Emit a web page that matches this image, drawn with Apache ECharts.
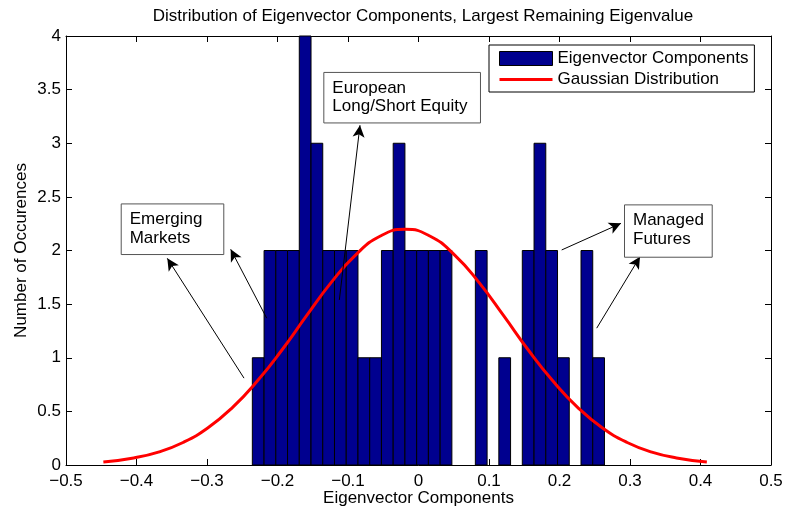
<!DOCTYPE html>
<html>
<head>
<meta charset="utf-8">
<script src="https://cdn.jsdelivr.net/npm/echarts@6/dist/echarts.min.js"></script>
<style>html,body{margin:0;padding:0;background:#fff}#c{width:785px;height:510px}</style>
</head>
<body>
<div id="c"></div>
<script>
// ---- data ----
const binStart = -0.2357;
const binWidth = 0.01665;
const counts = [1,2,2,2,4,3,2,2,2,1,1,2,3,2,2,2,2,0,0,2,0,1,0,2,3,2,1,0,2,1];
const curveX = [-0.447,-0.404,-0.369,-0.334,-0.299,-0.264,-0.229,-0.194,-0.159,-0.124,-0.089,-0.054,-0.019,0.016,0.051,0.086,0.121,0.156,0.191,0.226,0.261,0.296,0.331,0.366,0.409];
const curveY = [0.027,0.066,0.12,0.21,0.345,0.535,0.78,1.07,1.39,1.70,1.96,2.135,2.197,2.135,1.96,1.70,1.39,1.07,0.78,0.535,0.345,0.21,0.12,0.066,0.027];
const xTicks = [-0.5,-0.4,-0.3,-0.2,-0.1,0,0.1,0.2,0.3,0.4,0.5];
const yTicks = [0,0.5,1,1.5,2,2.5,3,3.5,4];
const titleText = 'Distribution of Eigenvector Components, Largest Remaining Eigenvalue';
const xName = 'Eigenvector Components';
const yName = 'Number of Occurences';
const seriesNames = ['Eigenvector Components','Gaussian Distribution'];
// annotation boxes: [x left, y top, x right, y bottom] in data units, text lines
const notes = [
  {box:[-0.4224,2.439,-0.2769,1.967], lines:['Emerging','Markets']},
  {box:[-0.135,3.665,0.0872,3.194], lines:['European','Long/Short Equity']},
  {box:[0.2915,2.430,0.4159,1.942], lines:['Managed','Futures']}
];
// arrows: [tail x, tail y, head x, head y]
const arrows = [
  [-0.2475,0.810,-0.3563,1.927],
  [-0.2153,1.369,-0.2664,2.011],
  [-0.1123,1.539,-0.0830,3.168],
  [0.2031,2.005,0.2872,2.253],
  [0.2528,1.276,0.3142,1.942]
];

const FONT = 'Liberation Sans, Arial, Helvetica, sans-serif';
const barData = counts.map((c,i)=>[binStart+i*binWidth, binStart+(i+1)*binWidth, c]).filter(d=>d[2]>0);
const curveData = curveX.map((x,i)=>[x, curveY[i]]);
const fmtX = v => { if (Math.abs(v) < 1e-9) return '0'; const s = (Math.round(v*10)/10).toFixed(1); return s.replace('-', '\u2212'); };
const fmtY = v => String(Math.round(v*10)/10);

const chart = echarts.init(document.getElementById('c'), null, {renderer:'canvas'});
const axisCommon = {
  type:'value',
  axisLine:{show:true, onZero:false, lineStyle:{color:'#000', width:1}},
  axisTick:{show:true, inside:true, length:6, lineStyle:{color:'#000'}},
  splitLine:{show:false}
};
chart.setOption({
  animation:false,
  backgroundColor:'#fff',
  title:{text:titleText, left:418, textAlign:'center', top:3,
    textStyle:{fontFamily:FONT, fontSize:17, fontWeight:'normal', color:'#000'}},
  legend:{
    orient:'vertical', left:489, top:45,
    backgroundColor:'#fff', borderColor:'#000', borderWidth:1,
    padding:[5,6,4,10], itemGap:4, itemWidth:53, itemHeight:14,
    textStyle:{fontFamily:FONT, fontSize:17, color:'#000'},
    data:[
      {name:seriesNames[0], icon:'rect', itemStyle:{color:'#00008F', borderColor:'#000', borderWidth:1}},
      {name:seriesNames[1], icon:'path://M0,0L53,0L53,3L0,3Z', itemStyle:{color:'#FF0000', borderWidth:0}}
    ]
  },
  grid:{left:66, right:14, top:36, bottom:45, show:false, containLabel:false, outerBoundsMode:'none'},
  xAxis:[
    Object.assign({}, axisCommon, {min:-0.5, max:0.5, interval:0.1, position:'bottom',
      name:xName, nameLocation:'middle', nameGap:25, nameMoveOverlap:false,
      nameTextStyle:{fontFamily:FONT, fontSize:17, color:'#000'},
      axisLabel:{formatter:fmtX, fontFamily:FONT, fontSize:17, color:'#000', margin:8}}),
    Object.assign({}, axisCommon, {min:-0.5, max:0.5, interval:0.1, position:'top', axisLabel:{show:false}})
  ],
  yAxis:[
    Object.assign({}, axisCommon, {min:0, max:4, interval:0.5, position:'left',
      name:yName, nameLocation:'middle', nameGap:36, nameRotate:90, nameMoveOverlap:false,
      nameTextStyle:{fontFamily:FONT, fontSize:17, color:'#000'},
      axisLabel:{formatter:fmtY, fontFamily:FONT, fontSize:17, color:'#000', margin:5}}),
    Object.assign({}, axisCommon, {min:0, max:4, interval:0.5, position:'right', axisLabel:{show:false}})
  ],
  series:[
    {
      name:seriesNames[0], type:'custom', xAxisIndex:0, yAxisIndex:0,
      itemStyle:{color:'#00008F', borderColor:'#000'},
      encode:{x:[0,1], y:2},
      data:barData,
      renderItem:function(params, api){
        const p0 = api.coord([api.value(0), api.value(2)]);
        const p1 = api.coord([api.value(1), 0]);
        return {type:'rect', shape:{x:p0[0], y:p0[1], width:p1[0]-p0[0], height:p1[1]-p0[1]},
          style:{fill:'#00008F', stroke:'#000', lineWidth:1}};
      },
      z:2
    },
    {
      name:seriesNames[1], type:'line', xAxisIndex:0, yAxisIndex:0,
      data:curveData, smooth:true, symbol:'none',
      lineStyle:{color:'#FF0000', width:3}, itemStyle:{color:'#FF0000'},
      z:3,
      markLine:{
        silent:true, symbol:['none','arrow'], symbolSize:[9,12],
        label:{show:false},
        lineStyle:{color:'#000', width:1, type:'solid'},
        emphasis:{disabled:true},
        data:arrows.map(a=>[{coord:[a[0],a[1]]},{coord:[a[2],a[3]]}])
      }
    }
  ]
});

// annotation text boxes positioned through the chart's own coordinate system
const graphics = notes.map(n=>{
  const tl = chart.convertToPixel({gridIndex:0}, [n.box[0], n.box[1]]);
  const br = chart.convertToPixel({gridIndex:0}, [n.box[2], n.box[3]]);
  return {type:'group', children:[
    {type:'rect', shape:{x:tl[0]+0.5, y:tl[1]+0.5, width:br[0]-tl[0], height:br[1]-tl[1]},
      style:{fill:'#fff', stroke:'#555', lineWidth:1}, z:10},
    {type:'text', x:tl[0]+9, y:tl[1]+7, z:11,
      style:{text:n.lines.join('\n'), fontFamily:FONT, fontSize:17, lineHeight:18.5, fill:'#000',
        textAlign:'left', textVerticalAlign:'top'}}
  ]};
});
chart.setOption({graphic:graphics});
</script>
</body>
</html>
